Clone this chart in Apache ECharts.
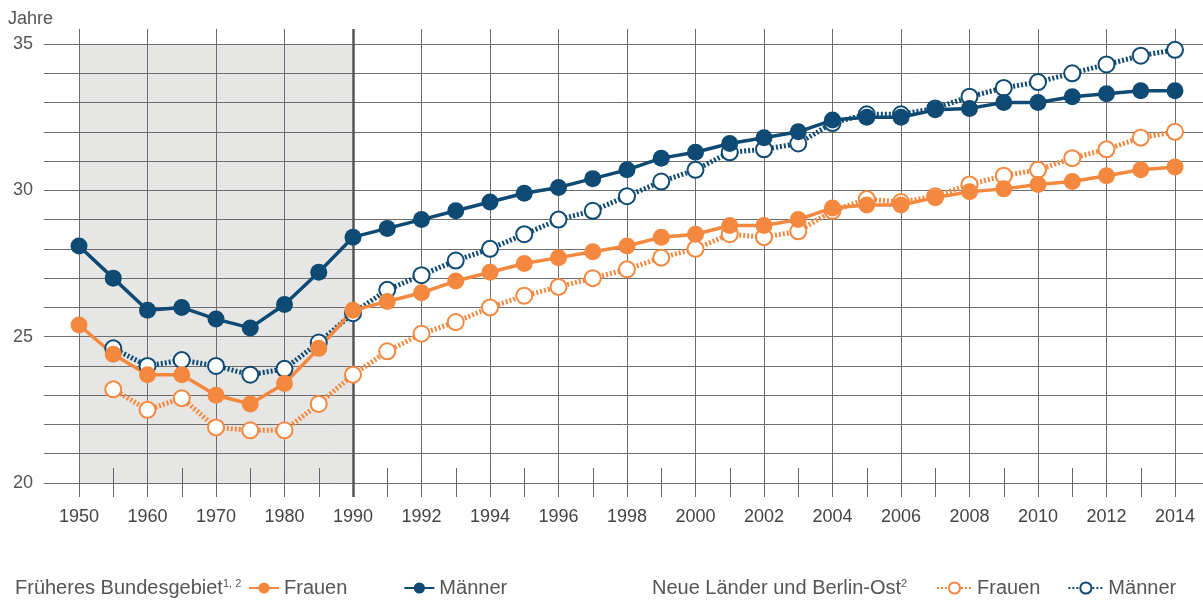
<!DOCTYPE html>
<html>
<head>
<meta charset="utf-8">
<script src="https://cdn.jsdelivr.net/npm/echarts@6/dist/echarts.min.js"></script>
<style>html,body{margin:0;padding:0;background:#fff}#c{width:1203px;height:601px}</style>
</head>
<body>
<div id="c"></div>
<script>
// ---- data ----
const categories = ['1950','1955','1960','1965','1970','1975','1980','1985','1990',
  '1991','1992','1993','1994','1995','1996','1997','1998','1999','2000',
  '2001','2002','2003','2004','2005','2006','2007','2008','2009','2010',
  '2011','2012','2013','2014'];
const labeledYears = ['1950','1960','1970','1980','1990','1992','1994','1996','1998',
  '2000','2002','2004','2006','2008','2010','2012','2014'];
const yTickLabels = [20, 25, 30, 35];
// Früheres Bundesgebiet
const fbFrauen = [25.4, 24.4, 23.7, 23.7, 23.0, 22.7, 23.4, 24.6, 25.9,
  26.2, 26.5, 26.9, 27.2, 27.5, 27.7, 27.9, 28.1, 28.4, 28.5,
  28.8, 28.8, 29.0, 29.4, 29.5, 29.5, 29.75, 29.95, 30.05, 30.2,
  30.3, 30.5, 30.7, 30.8];
const fbMaenner = [28.1, 27.0, 25.9, 26.0, 25.6, 25.3, 26.1, 27.2, 28.4,
  28.7, 29.0, 29.3, 29.6, 29.9, 30.1, 30.4, 30.7, 31.1, 31.3,
  31.6, 31.8, 32.0, 32.4, 32.5, 32.5, 32.75, 32.8, 33.0, 33.0,
  33.2, 33.3, 33.4, 33.4];
// Neue Länder und Berlin-Ost
const nlFrauen = [null, 23.2, 22.5, 22.9, 21.9, 21.8, 21.8, 22.7, 23.7,
  24.5, 25.1, 25.5, 26.0, 26.4, 26.7, 27.0, 27.3, 27.7, 28.0,
  28.5, 28.4, 28.6, 29.3, 29.7, 29.6, 29.8, 30.2, 30.5, 30.7,
  31.1, 31.4, 31.8, 32.0];
const nlMaenner = [null, 24.6, 24.0, 24.2, 24.0, 23.7, 23.9, 24.8, 25.8,
  26.6, 27.1, 27.6, 28.0, 28.5, 29.0, 29.3, 29.8, 30.3, 30.7,
  31.3, 31.4, 31.6, 32.3, 32.6, 32.6, 32.8, 33.2, 33.5, 33.7,
  34.0, 34.3, 34.6, 34.8];

// ---- style ----
const NAVY = '#0e4a73';
const ORANGE = '#f4883f';
const FONT = '"Liberation Sans", Arial, sans-serif';
const TXT = '#555';
const GRIDC = '#6e6e6e';

// layout: grid A (horizontal grid lines, y labels), grid B (data)
const A = {left: 44, right: 0, top: 44, bottom: 118};
const pxPerUnit = (601 - A.top - A.bottom) / 15;
const B = {left: 79, right: 28, top: 29, bottom: 104};
const bMax = 35 + (A.top - B.top) / pxPerUnit;
const bMin = 20 - (A.bottom - B.bottom) / pxPerUnit;

const isLabeled = (i, v) => labeledYears.includes(v);

const chart = echarts.init(document.getElementById('c'), null, {renderer: 'canvas'});
const dotted = [2, 2];
const richLabel = {
  a: {fontSize: 20, fontWeight: 'normal', color: TXT, fontFamily: FONT},
  s: {fontSize: 11, fontWeight: 'normal', color: TXT, fontFamily: FONT, verticalAlign: 'top'}
};

chart.setOption({
  animation: false,
  backgroundColor: '#fff',
  textStyle: {fontFamily: FONT},
  grid: [
    Object.assign({containLabel: false}, A),
    Object.assign({containLabel: false}, B)
  ],
  xAxis: [
    {gridIndex: 0, type: 'value', min: 0, max: 1, show: false},
    {gridIndex: 1, type: 'category', data: categories, boundaryGap: false, z: 1.5,
      axisLine: {show: false},
      axisTick: {show: true, interval: 0, inside: true, length: 29, lineStyle: {color: '#666', width: 1}},
      axisLabel: {interval: isLabeled, margin: 11, fontSize: 18, color: '#444', fontFamily: FONT},
      splitLine: {show: true, interval: isLabeled, lineStyle: {color: GRIDC, width: 1}}
    }
  ],
  yAxis: [
    {gridIndex: 0, type: 'value', min: 20, max: 35, interval: 1, z: 1.5,
      axisLine: {show: false}, axisTick: {show: false},
      axisLabel: {margin: 11, fontSize: 18, color: TXT, fontFamily: FONT,
        formatter: v => yTickLabels.includes(v) ? String(v) : ''},
      splitLine: {show: true, lineStyle: {color: GRIDC, width: 1}}
    },
    {gridIndex: 1, type: 'value', min: bMin, max: bMax, show: false, splitLine: {show: false}}
  ],
  title: [
    {text: '{a|Früheres Bundesgebiet}{s|1, 2}', left: 15, top: 578, padding: 0,
      textStyle: {fontWeight: 'normal', rich: richLabel}},
    {text: '{a|Neue Länder und Berlin-Ost}{s|2}', left: 652, top: 578, padding: 0,
      textStyle: {fontWeight: 'normal', rich: richLabel}}
  ],
  graphic: [
    {type: 'text', left: 8, top: 10, style: {text: 'Jahre', fontSize: 18, fontFamily: FONT, fill: TXT}}
  ],
  legend: [
    {data: ['Frauen (FB)', 'Männer (FB)'], left: 248, top: 578, padding: 0,
      itemWidth: 30, itemHeight: 14, itemGap: 56, selectedMode: false,
      formatter: n => n.split(' ')[0],
      textStyle: {fontSize: 20, color: TXT, fontFamily: FONT}},
    {data: ['Frauen (NL)', 'Männer (NL)'], left: 936, top: 578, padding: 0,
      itemWidth: 35, itemHeight: 14, itemGap: 27, selectedMode: false,
      formatter: n => n.split(' ')[0],
      textStyle: {fontSize: 20, color: TXT, fontFamily: FONT}}
  ],
  series: [
    {name: 'Männer (NL)', type: 'line', xAxisIndex: 1, yAxisIndex: 1, data: nlMaenner,
      symbol: 'emptyCircle', symbolSize: 16, color: NAVY,
      lineStyle: {color: NAVY, width: 5, type: dotted},
      itemStyle: {color: NAVY, borderColor: NAVY, borderWidth: 2.5}},
    {name: 'Frauen (NL)', type: 'line', xAxisIndex: 1, yAxisIndex: 1, data: nlFrauen,
      symbol: 'emptyCircle', symbolSize: 16, color: ORANGE,
      lineStyle: {color: ORANGE, width: 5, type: dotted},
      itemStyle: {color: ORANGE, borderColor: ORANGE, borderWidth: 2.5}},
    {name: 'Männer (FB)', type: 'line', xAxisIndex: 1, yAxisIndex: 1, data: fbMaenner,
      symbol: 'circle', symbolSize: 17, color: NAVY,
      lineStyle: {color: NAVY, width: 3.5},
      itemStyle: {color: NAVY},
      markArea: {silent: true, z: 1, itemStyle: {color: '#e6e7e5'},
        data: [[{xAxis: '1950', yAxis: 20}, {xAxis: '1990', yAxis: 35}]]},
      markLine: {silent: true, z: 1.8, symbol: ['none', 'none'], label: {show: false},
        lineStyle: {color: '#555', width: 2.5, type: 'solid'},
        emphasis: {disabled: true},
        data: [{xAxis: '1990'}]}},
    {name: 'Frauen (FB)', type: 'line', xAxisIndex: 1, yAxisIndex: 1, data: fbFrauen,
      symbol: 'circle', symbolSize: 17, color: ORANGE,
      lineStyle: {color: ORANGE, width: 3.5},
      itemStyle: {color: ORANGE}}
  ]
});
</script>
</body>
</html>
